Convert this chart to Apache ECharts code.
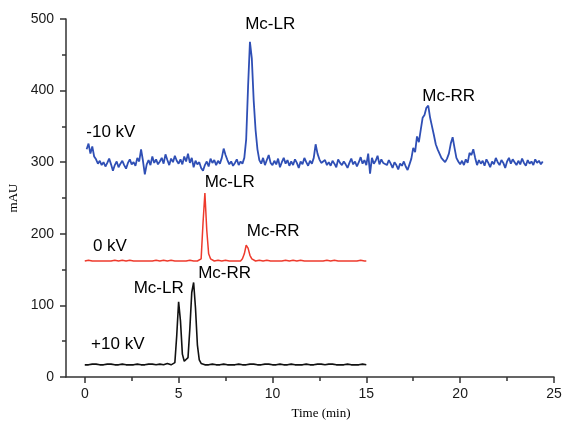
<!DOCTYPE html>
<html><head><meta charset="utf-8">
<script src="https://cdn.jsdelivr.net/npm/echarts@6/dist/echarts.min.js"></script>
<style>html,body{margin:0;padding:0;background:#fff}#c{width:563px;height:421px}</style>
</head><body><div id="c"></div><script>
// ---- data ----
const xTickLabels = [0, 5, 10, 15, 20, 25];
const xMinorTicks = [2.5, 7.5, 12.5, 17.5, 22.5];
const yTickLabels = [0, 100, 200, 300, 400, 500];

// +10 kV (black), time 0.0 .. 15.0 step 0.1
const blackStart = 0.0, blackStep = 0.1;
const blackValues = [
17,18,17,17,18,17,18,17,17,18,
17,17,18,17,18,17,17,18,17,17,
18,17,17,18,17,18,17,17,18,17,
17,18,17,17,18,17,18,17,17,18,
18,17,17,18,19,18,17,18,20,58,
105,78,32,22,21,27,68,118,132,96,
45,24,19,18,17,18,17,17,18,17,
17,18,17,17,18,17,17,18,17,18,
17,17,18,17,17,18,17,17,18,17,
18,17,17,18,17,17,18,17,18,17,
17,18,17,17,18,17,17,18,17,17,
18,17,17,18,17,18,17,17,18,17,
17,18,17,17,18,17,18,18,17,17,
18,17,18,17,17,18,17,18,17,17,
18,17,17,18,17,18,17,17,18,17,
17];

// 0 kV (red), time 0.0 .. 15.0 step 0.1
const redStart = 0.0, redStep = 0.1;
const redValues = [
162,162,163,162,162,163,162,162,162,163,
162,162,162,163,162,162,163,162,162,162,
163,162,162,162,163,162,162,163,162,162,
162,163,162,162,162,163,162,162,163,162,
162,162,163,162,162,162,163,162,162,163,
162,162,162,163,162,162,163,162,162,162,
162,163,165,215,257,205,172,165,163,162,
162,163,162,162,162,163,162,162,163,162,
162,162,163,162,165,172,184,180,170,165,
163,162,162,163,162,162,162,163,162,162,
163,162,162,162,163,162,162,163,162,162,
162,163,162,162,162,163,162,162,163,162,
162,162,163,162,162,162,163,162,162,163,
162,162,162,163,162,162,163,162,162,162,
163,162,162,162,163,162,162,163,162,162,
162];

// -10 kV (blue), time 0.1 .. 24.4 step 0.1
const blueStart = 0.1, blueStep = 0.1;
const blueValues = [
318,326,312,322,308,304,298,302,296,300,
294,299,305,297,288,296,301,293,298,302,
296,291,299,304,297,300,295,306,301,318,
302,283,297,303,296,308,299,304,297,301,
306,298,311,303,296,305,300,309,302,298,
304,297,308,301,312,299,306,293,302,297,
300,292,288,296,301,294,305,299,303,296,
302,298,306,319,310,303,297,301,295,299,
304,296,301,298,306,332,405,468,445,386,
345,318,303,298,306,296,303,310,299,296,
302,297,305,293,300,306,298,303,295,301,
296,304,299,292,301,297,306,300,295,302,
298,306,325,312,304,299,297,303,296,300,
295,302,298,293,304,299,296,301,297,292,
299,305,297,301,294,300,307,298,303,296,
312,284,306,298,302,309,297,304,299,301,
296,303,298,292,300,296,290,298,295,301,
294,289,297,305,320,314,336,328,345,362,
366,376,379,362,350,338,325,318,312,306,
303,300,305,312,326,335,320,306,301,297,
302,296,304,299,313,310,318,306,296,303,
298,302,295,304,299,293,301,297,306,300,
296,303,299,292,301,306,298,304,300,296,
302,297,305,299,295,303,298,301,296,304,
299,302,297,301];

// annotations
const annText = ["Mc-LR","Mc-RR","-10 kV","Mc-LR","Mc-RR","0 kV","Mc-LR","Mc-RR","+10 kV"];
const annX    = [9.88, 19.39, 1.39, 7.72, 10.04, 1.34, 3.94, 7.45, 1.76];
const annY    = [493, 392, 342, 272, 204, 182, 124, 145, 45];

function pairs(start, step, vals){ return vals.map((v,i)=>[+(start+i*step).toFixed(2), v]); }

const chart = echarts.init(document.getElementById('c'), null, {renderer:'canvas'});
const axisColor = '#333';
const gridPos = {left:66, right:9, top:19, bottom:44, outerBoundsMode:'none'};
chart.setOption({
  animation:false,
  backgroundColor:'#fff',
  grid:[Object.assign({}, gridPos), Object.assign({}, gridPos)],
  xAxis:[{
    type:'value', gridIndex:0, min:-1, max:25,
    name:'Time (min)', nameLocation:'middle', nameGap:30,
    nameTextStyle:{fontFamily:'Liberation Serif', fontSize:13, color:'#000', padding:[0,0,0,22]},
    axisLine:{onZero:false, lineStyle:{color:axisColor, width:1.5}},
    axisTick:{customValues:xTickLabels, length:6, lineStyle:{color:axisColor, width:1.5}},
    axisLabel:{customValues:xTickLabels, margin:10, fontFamily:'Liberation Sans', fontSize:14, color:'#1a1a1a'},
    splitLine:{show:false}
  },{
    type:'value', gridIndex:1, min:-1, max:25, position:'bottom',
    axisLine:{show:false, onZero:false},
    axisTick:{customValues:xMinorTicks, length:4, lineStyle:{color:axisColor, width:1.5}},
    axisLabel:{show:false},
    splitLine:{show:false}
  }],
  yAxis:[{
    type:'value', gridIndex:0, min:0, max:500, interval:100,
    name:'mAU', nameLocation:'middle', nameGap:44,
    nameTextStyle:{fontFamily:'Liberation Serif', fontSize:13, color:'#000'},
    axisLine:{show:true, onZero:false, lineStyle:{color:axisColor, width:1.5}},
    axisTick:{show:true, length:6, lineStyle:{color:axisColor, width:1.5}},
    minorTick:{show:true, splitNumber:2, length:4, lineStyle:{color:axisColor, width:1.5}},
    axisLabel:{margin:12, fontFamily:'Liberation Sans', fontSize:14, color:'#1a1a1a',
      formatter:v=> yTickLabels.includes(v) ? String(v) : ''},
    splitLine:{show:false}
  },{
    type:'value', gridIndex:1, min:0, max:500, show:false
  }],
  series:[
    {type:'line', name:'+10 kV', xAxisIndex:0, yAxisIndex:0, data:pairs(blackStart, blackStep, blackValues),
      showSymbol:false, lineStyle:{color:'#111', width:1.6}},
    {type:'line', name:'0 kV', xAxisIndex:0, yAxisIndex:0, data:pairs(redStart, redStep, redValues),
      showSymbol:false, lineStyle:{color:'#ee3a2c', width:1.5}},
    {type:'line', name:'-10 kV', xAxisIndex:0, yAxisIndex:0, data:pairs(blueStart, blueStep, blueValues),
      showSymbol:false, lineStyle:{color:'#2f4fb5', width:1.8}},
    {type:'scatter', xAxisIndex:0, yAxisIndex:0, symbolSize:0, silent:true,
      itemStyle:{opacity:1},
      data:annText.map((s,i)=>[annX[i], annY[i], s]),
      label:{show:true, position:[0,0], align:'center', verticalAlign:'middle', opacity:1,
        formatter:p=>p.data[2], fontFamily:'Liberation Sans', fontSize:17, color:'#000'}}
  ]
});
</script></body></html>
